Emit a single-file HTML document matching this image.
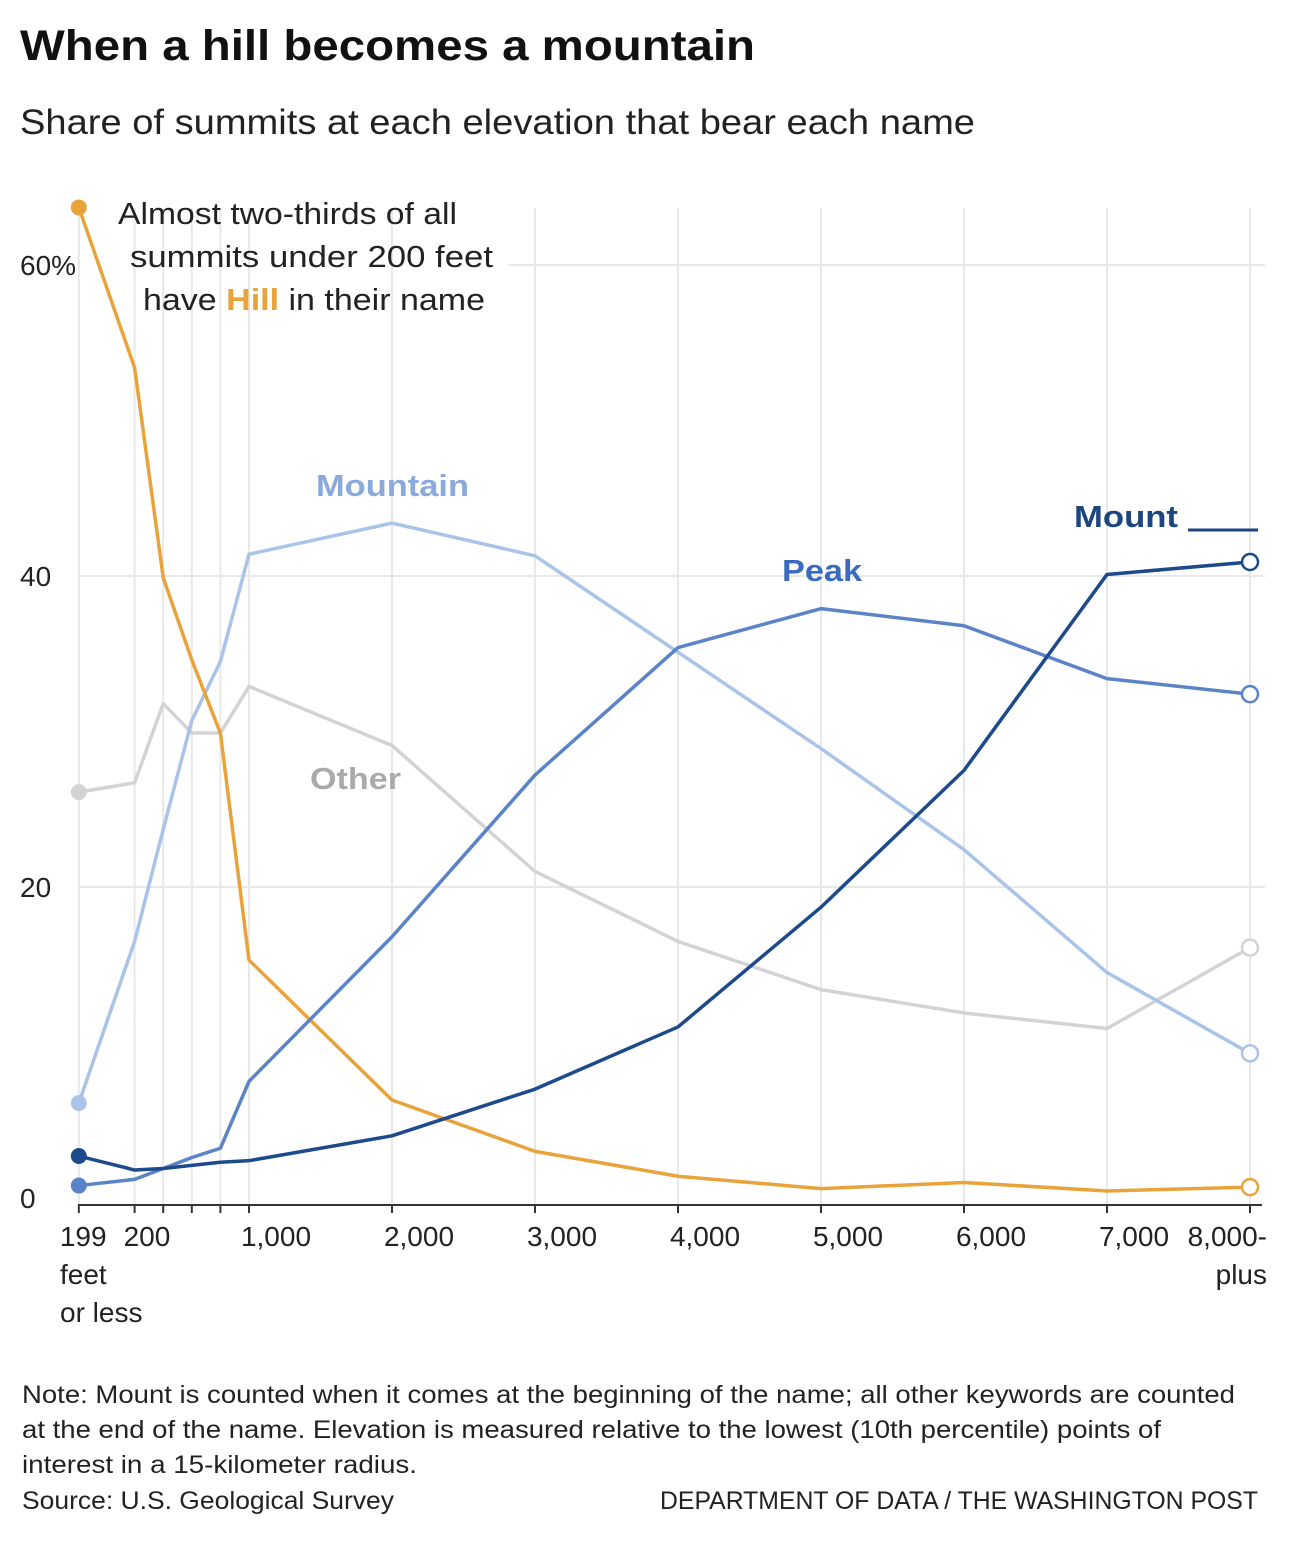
<!DOCTYPE html>
<html><head><meta charset="utf-8"><style>
body{margin:0;background:#fff;font-family:"Liberation Sans",sans-serif;}
svg text{font-family:"Liberation Sans",sans-serif;}
</style></head><body>
<svg width="1300" height="1546" xmlns="http://www.w3.org/2000/svg">
<text x="20" y="60" font-size="43" font-weight="bold" fill="#111" textLength="735" lengthAdjust="spacingAndGlyphs">When a hill becomes a mountain</text>
<text x="20" y="134" font-size="35" fill="#222" textLength="955" lengthAdjust="spacingAndGlyphs">Share of summits at each elevation that bear each name</text>
<g id="grid"></g>
<g id="axes"></g>
<g id="lines"></g>
<g id="labels">
<text x="118" y="224" font-size="31" fill="#222" textLength="339" lengthAdjust="spacingAndGlyphs">Almost two-thirds of all</text>
<text x="130" y="267" font-size="31" fill="#222" textLength="363" lengthAdjust="spacingAndGlyphs">summits under 200 feet</text>
<text x="143" y="310" font-size="31" fill="#222" textLength="342" lengthAdjust="spacingAndGlyphs">have <tspan font-weight="bold" fill="#e8a33a">Hill</tspan> in their name</text>
<text x="316" y="496" font-size="31" font-weight="bold" fill="#8ba9dc" textLength="153" lengthAdjust="spacingAndGlyphs">Mountain</text>
<text x="310" y="789" font-size="31" font-weight="bold" fill="#aaa" textLength="91" lengthAdjust="spacingAndGlyphs">Other</text>
<text x="782" y="581" font-size="31" font-weight="bold" fill="#3a6bbf" textLength="80" lengthAdjust="spacingAndGlyphs">Peak</text>
<text x="1074" y="527" font-size="31" font-weight="bold" fill="#1d4580" textLength="104" lengthAdjust="spacingAndGlyphs">Mount</text>
<line x1="1188" y1="530" x2="1258" y2="530" stroke="#1d4580" stroke-width="3"/>
</g>
<text x="22" y="1403" font-size="25" fill="#222" textLength="1213" lengthAdjust="spacingAndGlyphs">Note: Mount is counted when it comes at the beginning of the name; all other keywords are counted</text>
<text x="22" y="1438" font-size="25" fill="#222" textLength="1139" lengthAdjust="spacingAndGlyphs">at the end of the name. Elevation is measured relative to the lowest (10th percentile) points of</text>
<text x="22" y="1473" font-size="25" fill="#222" textLength="395" lengthAdjust="spacingAndGlyphs">interest in a 15-kilometer radius.</text>
<text x="22" y="1509" font-size="25" fill="#222" textLength="372" lengthAdjust="spacingAndGlyphs">Source: U.S. Geological Survey</text>
<text x="660" y="1509" font-size="25" fill="#222" textLength="598" lengthAdjust="spacingAndGlyphs">DEPARTMENT OF DATA / THE WASHINGTON POST</text>
</svg>
<script>
const elevations=[-190,200,400,600,800,1000,2000,3000,4000,5000,6000,7000,8000];
const yTicks=[0,20,40,60];
const yTickLabels=["0","20","40","60%"];
const xTickLabels=["199","200","","","","1,000","2,000","3,000","4,000","5,000","6,000","7,000","8,000-"];
const hill=[63.7,53.4,39.9,34.6,29.9,15.3,6.3,3.0,1.4,0.6,1.0,0.45,0.7];
const mountain=[6.1,16.5,23.7,30.7,34.5,41.4,43.4,41.3,35.1,28.9,22.4,14.5,9.3];
const other=[26.1,26.7,31.8,29.9,29.9,32.9,29.1,21.0,16.5,13.4,11.9,10.9,16.1];
const peak=[0.8,1.2,1.9,2.6,3.2,7.5,16.8,27.2,35.4,37.9,36.8,33.4,32.4];
const mount=[2.7,1.8,1.9,2.1,2.3,2.4,4.0,7.0,11.0,18.7,27.5,40.1,40.9];
const NS="http://www.w3.org/2000/svg";
const X=e=>249+(e-1000)*0.143;
const Y=v=>1198-v*15.55;
function mk(tag,attrs,parent,txt){const el=document.createElementNS(NS,tag);for(const k in attrs)el.setAttribute(k,attrs[k]);if(txt!==undefined)el.textContent=txt;document.getElementById(parent).appendChild(el);return el;}
elevations.forEach((e,i)=>{
 const g=mk('line',{x1:X(e),x2:X(e),y1:208,y2:1205,stroke:'#e8e8e8','stroke-width':2},'grid');
 
 
 const t=mk('line',{x1:X(e),x2:X(e),y1:1205,y2:1213,stroke:'#333','stroke-width':2},'axes');
 
 
 if(xTickLabels[i]){
  const anchor=i===0?'start':(i===12?'end':(i===1?'start':'middle'));
  const xx=i===0?X(e)-19:(i===12?X(e)+17:(i===1?X(e)-11:X(e)+27));
  const l=mk('text',{x:xx,y:1246,'font-size':28,fill:'#222','text-anchor':anchor},'axes',xTickLabels[i]);
  
  
 }
});
[["feet",60,1284,'start'],["or less",60,1322,'start'],["plus",1267,1284,'end']].forEach(a=>{
 const l=mk('text',{x:a[1],y:a[2],'font-size':28,fill:'#222','text-anchor':a[3]},'axes',a[0]);
 
 
});
const ax=mk('line',{x1:78,x2:1262,y1:1205,y2:1205,stroke:'#333','stroke-width':2},'axes');


yTicks.forEach((v,i)=>{
 if(v>0){
  const gl=mk('line',{x1:v===60?508:80,x2:1265,y1:Y(v),y2:Y(v),stroke:'#e8e8e8','stroke-width':2},'grid');
  
  
 }
 const l=mk('text',{x:20,y:Y(v)+10,'font-size':28,fill:'#222'},'axes',yTickLabels[i]);
 
 
});
const series=[["other",other,'#d3d3d3'],["mountain",mountain,'#a9c4e8'],["hill",hill,'#e8a33a'],["peak",peak,'#5b84c8'],["mount",mount,'#1d4a8a']];
series.forEach(s=>{
 const d=s[1].map((v,i)=>(i?'L':'M')+X(elevations[i])+','+Y(v)).join('');
 const p=mk('path',{d:d,fill:'none',stroke:s[2],'stroke-width':3.5,'stroke-linejoin':'round'},'lines');
 
 
 const c0=mk('circle',{cx:X(elevations[0]),cy:Y(s[1][0]),r:8,fill:s[2]},'lines');
 
 
 const n=s[1].length-1;
 const c1=mk('circle',{cx:X(elevations[n]),cy:Y(s[1][n]),r:8,fill:'#fff',stroke:s[2],'stroke-width':2.5},'lines');
 
 
});
</script>
</body></html>
